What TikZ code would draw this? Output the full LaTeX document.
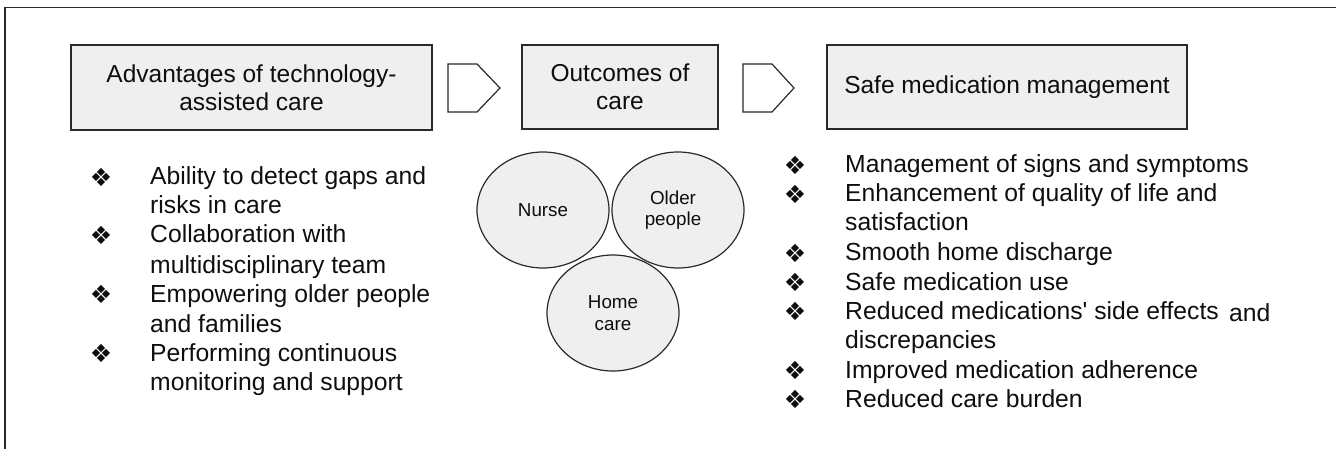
\documentclass[tikz,border=0pt]{standalone}
\usepackage{fontspec}
\usetikzlibrary{shapes.geometric}
\setmainfont{Liberation Sans}
\newfontfamily\plainfont{Liberation Sans}
\newfontfamily\symfont{DejaVu Sans}
\definecolor{boxfill}{HTML}{EFEFEF}
\definecolor{ink}{HTML}{0E0E0E}
\definecolor{edge}{HTML}{2A2A2A}
\begin{document}
\begin{tikzpicture}[x=1pt,y=-1pt,
  titlebox/.style={draw=edge,line width=1.3pt,fill=boxfill,inner sep=0pt,align=center,
    font=\fontsize{24.5}{28.5}\selectfont,text=ink},
  circ/.style={ellipse,draw=edge,line width=1.2pt,fill=boxfill,inner sep=0pt,
    minimum width=132pt,minimum height=116pt,align=center,
    font=\fontsize{18.8}{21.5}\selectfont,text=ink},
  itemline/.style={anchor=base west,inner sep=0pt,font=\fontsize{24.7}{29}\selectfont,text=ink},
  bul/.style={inner sep=0pt,font=\symfont\fontsize{25}{25}\selectfont,text=ink},
  chev/.style={draw=edge,line width=1.2pt,fill=white}]
\useasboundingbox (0,0) rectangle (1336,449);
% frame
\draw[line width=1.8pt,edge] (5,449) -- (5,7.5) -- (1336,7.5);
% title boxes
\node[titlebox,minimum width=361pt,minimum height=85pt] (b1) at (251.5,87.5) {Advantages of technology-\\assisted care};
\node[titlebox,minimum width=196pt,minimum height=84pt] (b2) at (620,87) {Outcomes of\\care};
\node[titlebox,minimum width=360pt,minimum height=84pt] (b3) at (1007,87) {Safe medication management};
% chevrons
\draw[chev] (448,64) -- (477,64) -- (500,88) -- (477,112) -- (448,112) -- cycle;
\draw[chev] (743,64) -- (772,64) -- (794,88) -- (772,112) -- (743,112) -- cycle;
% circles
\node[circ] (nurse) at (543,210) {Nurse};
\node[circ,text width=60pt] (older) at (678,210) {\hspace*{-10pt}Older\\\hspace*{-10pt}people};
\node[circ] (home) at (613,313) {Home\\care};
% left list
\foreach \y/\n in {185/l1,243/l2,302/l3,361/l4}
  \node[bul] (\n b) at (101,\y-8) {❖};
\node[itemline] (l1a) at (150,185) {Ability to detect gaps and};
\node[itemline] (l1c) at (150,214) {risks in care};
\node[itemline] (l2a) at (150,243) {Collaboration with};
\node[itemline] (l2c) at (150,273) {multidisciplinary team};
\node[itemline] (l3a) at (150,302) {Empowering older people};
\node[itemline] (l3c) at (150,332) {and families};
\node[itemline] (l4a) at (150,361) {Performing continuous};
\node[itemline] (l4c) at (150,390) {monitoring and support};
% right list
\foreach \y/\n in {173/r1,202/r2,261/r3,290/r4,319/r5,378/r6,407/r7}
  \node[bul] (\n b) at (795,\y-8) {❖};
\node[itemline] (r1a) at (845,173) {Management of signs and symptoms};
\node[itemline] (r2a) at (845,202) {Enhancement of quality of life and};
\node[itemline] (r2c) at (845,231) {satisfaction};
\node[itemline] (r3a) at (845,261) {Smooth home discharge};
\node[itemline] (r4a) at (845,290) {Safe medication use};
\node[itemline] (r5a) at (845,319) {Reduced medications{\plainfont'} side effects};
\node[itemline] (r5d) at (1229,321) {and};
\node[itemline] (r5c) at (845,348) {discrepancies};
\node[itemline] (r6a) at (845,378) {Improved medication adherence};
\node[itemline] (r7a) at (845,407) {Reduced care burden};
\end{tikzpicture}
\end{document}
